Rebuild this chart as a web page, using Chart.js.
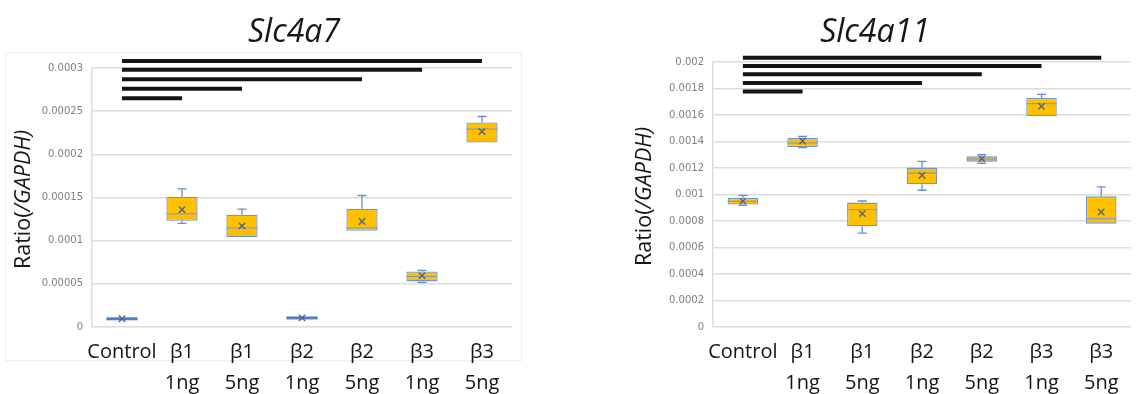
<!DOCTYPE html>
<html>
<head>
<meta charset="utf-8">
<script src="https://cdn.jsdelivr.net/npm/chart.js@4"></script>
<style>
html, body { margin: 0; padding: 0; background: #fff; }
body { width: 1137px; height: 394px; position: relative; overflow: hidden; }
.panel { position: absolute; top: 0; }
#leftWrap { left: 0; }
#rightWrap { left: 560px; }
</style>
</head>
<body>
<div class="panel" id="leftWrap"><canvas id="a7" width="560" height="394"></canvas></div>
<div class="panel" id="rightWrap"><canvas id="a11" width="577" height="394"></canvas></div>
<script>
// categories (x axis, two-line labels)
const categories = [['Control'], ['β1', '1ng'], ['β1', '5ng'], ['β2', '1ng'], ['β2', '5ng'], ['β3', '1ng'], ['β3', '5ng']];

// Slc4a7 box stats (ratio / GAPDH)
const a7Min    = [0.0000085, 0.000120, 0.000104, 0.0000098, 0.0001115, 0.0000517, 0.0002135];
const a7Q1     = [0.0000086, 0.000123, 0.000104, 0.0000099, 0.0001115, 0.0000528, 0.0002137];
const a7Median = [0.0000095, 0.000131, 0.0001146, 0.0000105, 0.0001146, 0.0000586, 0.0002292];
const a7Q3     = [0.0000104, 0.000151, 0.000130, 0.0000111, 0.0001369, 0.0000644, 0.0002368];
const a7Max    = [0.0000105, 0.000160, 0.0001366, 0.0000112, 0.0001523, 0.0000655, 0.0002438];
const a7Mean   = [0.0000095, 0.000136, 0.0001172, 0.0000105, 0.0001222, 0.0000595, 0.0002264];
const a7Ticks  = [0, 0.00005, 0.0001, 0.00015, 0.0002, 0.00025, 0.0003];
// significance bars: all start at Control, end at these category indexes
const a7SigEnds   = [6, 5, 4, 2, 1];
const a7SigLevels = [0.000308, 0.000298, 0.000287, 0.000276, 0.000265];

// Slc4a11 box stats
const a11Min    = [0.000918, 0.001354, 0.000709, 0.001032, 0.001235, 0.001588, 0.000780];
const a11Q1     = [0.000924, 0.001358, 0.000760, 0.001077, 0.001248, 0.001590, 0.000780];
const a11Median = [0.000949, 0.001389, 0.000886, 0.001162, 0.001268, 0.001686, 0.000818];
const a11Q3     = [0.000974, 0.001429, 0.000939, 0.001203, 0.001288, 0.001728, 0.000986];
const a11Max    = [0.000994, 0.001439, 0.000951, 0.001250, 0.001301, 0.001756, 0.001057];
const a11Mean   = [0.000950, 0.001404, 0.000856, 0.001145, 0.001270, 0.001666, 0.000868];
const a11Ticks  = [0, 0.0002, 0.0004, 0.0006, 0.0008, 0.001, 0.0012, 0.0014, 0.0016, 0.0018, 0.002];
const a11SigEnds   = [6, 5, 4, 3, 1];
const a11SigLevels = [0.002033, 0.00197, 0.001907, 0.001842, 0.001777];

const BOX_FILL = '#FFC000';
const BOX_EDGE = '#6F97CC';
const WHISKER = '#6A8FC2';
const MEDIAN = '#8C9DB5';
const MEAN = '#56657C';

// whiskers + median, drawn right after the boxes
function boxDecor(min, median, max) {
  return {
    id: 'boxDecor',
    afterDatasetDraw(chart, args) {
      if (args.index !== 0) return;
      const ctx = chart.ctx;
      const x = chart.scales.x, y = chart.scales.y;
      ctx.save();
      args.meta.data.forEach((bar, i) => {
        const cx = x.getPixelForValue(i);
        const hw = bar.width / 2;
        const top = Math.min(bar.y, bar.base), bot = Math.max(bar.y, bar.base);
        const yMax = y.getPixelForValue(max[i]);
        const yMin = y.getPixelForValue(min[i]);
        const yMed = y.getPixelForValue(median[i]);
        ctx.strokeStyle = WHISKER;
        ctx.lineWidth = 1.3;
        ctx.beginPath();
        if (yMax < top - 0.5) {
          ctx.moveTo(cx, top); ctx.lineTo(cx, yMax);
          ctx.moveTo(cx - 4.5, yMax); ctx.lineTo(cx + 4.5, yMax);
        }
        if (yMin > bot + 0.5) {
          ctx.moveTo(cx, bot); ctx.lineTo(cx, yMin);
          ctx.moveTo(cx - 4.5, yMin); ctx.lineTo(cx + 4.5, yMin);
        }
        ctx.stroke();
        if (bot - top > 3) {
          ctx.strokeStyle = MEDIAN;
          ctx.lineWidth = 1.2;
          ctx.beginPath();
          ctx.moveTo(cx - hw, yMed); ctx.lineTo(cx + hw, yMed);
          ctx.stroke();
        } else {
          // collapsed box: solid blue bar
          ctx.fillStyle = '#4F7FBF';
          ctx.fillRect(cx - hw, yMed - 1.5, hw * 2, 3);
        }
      });
      ctx.restore();
    }
  };
}

// chart title + mixed-style y title
function decor(title, titleX, frame) {
  return {
    id: 'decor',
    beforeDraw(chart) {
      if (!frame) return;
      const ctx = chart.ctx;
      ctx.save();
      ctx.strokeStyle = '#efefef';
      ctx.lineWidth = 1;
      ctx.strokeRect(frame[0] + 0.5, frame[1] + 0.5, frame[2], frame[3]);
      ctx.restore();
    },
    afterDraw(chart) {
      const ctx = chart.ctx;
      const area = chart.chartArea;
      ctx.save();
      ctx.fillStyle = '#161616';
      ctx.font = 'italic 32px "Open Sans"';
      ctx.textAlign = 'center';
      ctx.textBaseline = 'alphabetic';
      ctx.fillText(title, titleX, 42);

      // y axis title: "Ratio(" upright, "/GAPDH)" italic
      const a = 'Ratio(', b = '/GAPDH)';
      const upright = '21.5px "Open Sans"', italic = 'italic 21.5px "Open Sans"';
      ctx.font = upright; const wa = ctx.measureText(a).width;
      ctx.font = italic; const wb = ctx.measureText(b).width;
      ctx.translate(area.left - 68, (area.top + area.bottom) / 2 + 2);
      ctx.rotate(-Math.PI / 2);
      ctx.textAlign = 'left';
      ctx.textBaseline = 'middle';
      const start = -(wa + wb) / 2;
      ctx.font = upright; ctx.fillText(a, start, 0);
      ctx.font = italic; ctx.fillText(b, start + wa, 0);
      ctx.restore();
    }
  };
}

function fmt(v) {
  return parseFloat(Number(v).toPrecision(6)).toString();
}

function makeChart(id, s, opt) {
  const sigSets = s.sigEnds.map((end, k) => ({
    type: 'line',
    data: categories.map((c, i) => (i === 0 || i === end) ? s.sigLevels[k] : null),
    spanGaps: true,
    borderColor: '#151515',
    borderWidth: 4,
    borderCapStyle: 'butt',
    pointRadius: 0,
    clip: false,
    order: 2
  }));
  return new Chart(document.getElementById(id), {
    type: 'bar',
    data: {
      labels: categories,
      datasets: [
        {
          data: s.q1.map((q, i) => [q, s.q3[i]]),
          backgroundColor: BOX_FILL,
          borderColor: BOX_EDGE,
          borderWidth: 1.3,
          borderSkipped: false,
          barPercentage: opt.barPct,
          categoryPercentage: 1,
          order: 3
        },
        {
          type: 'line',
          data: s.mean,
          showLine: false,
          pointStyle: 'crossRot',
          pointRadius: 4.5,
          pointBorderWidth: 1.4,
          pointBorderColor: MEAN,
          pointBackgroundColor: MEAN,
          order: 1
        },
        ...sigSets
      ]
    },
    options: {
      responsive: false,
      animation: false,
      layout: { padding: opt.padding },
      plugins: { legend: { display: false }, tooltip: { enabled: false }, title: { display: false } },
      scales: {
        x: {
          offset: true,
          grid: { display: false },
          border: { display: false },
          afterFit: (sc) => { sc.height = opt.xHeight; },
          ticks: {
            autoSkip: false,
            maxRotation: 0,
            padding: 2,
            color: '#141414',
            font: { family: '"Open Sans"', size: 20, lineHeight: 1.55 }
          }
        },
        y: {
          min: 0,
          max: s.ticks[s.ticks.length - 1],
          afterBuildTicks: (sc) => { sc.ticks = s.ticks.map(v => ({ value: v })); },
          afterFit: (sc) => { sc.width = opt.yWidth; },
          grid: { color: '#dcdcdc', lineWidth: 1.5, drawTicks: false },
          border: { display: true, color: '#dcdcdc', width: 1.5 },
          ticks: {
            padding: 9,
            color: '#7f7f7f',
            font: { family: '"DejaVu Sans"', size: 10 },
            callback: (v) => fmt(v)
          }
        }
      }
    },
    plugins: [boxDecor(s.min, s.median, s.max), decor(opt.title, opt.titleX, opt.frame)]
  });
}

makeChart('a7', {
  min: a7Min, q1: a7Q1, median: a7Median, q3: a7Q3, max: a7Max, mean: a7Mean,
  ticks: a7Ticks, sigEnds: a7SigEnds, sigLevels: a7SigLevels
}, {
  title: 'Slc4a7', titleX: 294,
  padding: { top: 68, right: 48, left: 0, bottom: 0 },
  yWidth: 92, xHeight: 67, barPct: 0.52,
  frame: [5, 52, 516, 308]
});

makeChart('a11', {
  min: a11Min, q1: a11Q1, median: a11Median, q3: a11Q3, max: a11Max, mean: a11Mean,
  ticks: a11Ticks, sigEnds: a11SigEnds, sigLevels: a11SigLevels
}, {
  title: 'Slc4a11', titleX: 315,
  padding: { top: 62, right: 0, left: 0, bottom: 0 },
  yWidth: 153, xHeight: 67, barPct: 0.51,
  frame: null
});
</script>
</body>
</html>
